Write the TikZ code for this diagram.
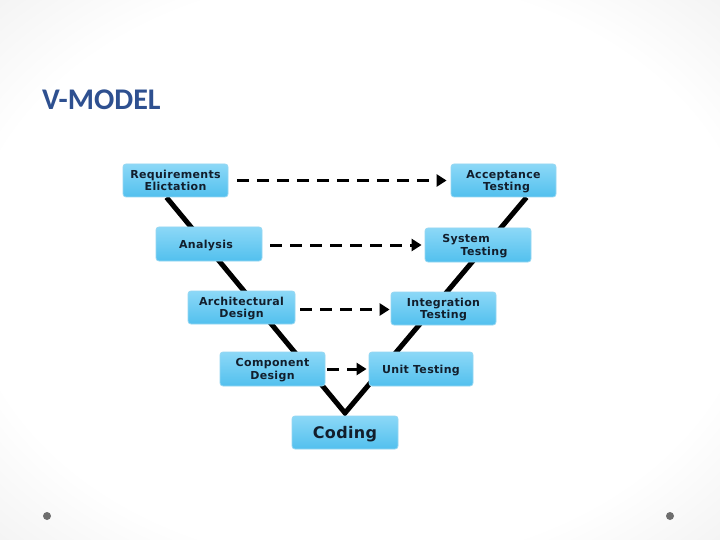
\documentclass[tikz,border=0pt]{standalone}
\usepackage{fontspec}
\usetikzlibrary{arrows.meta,shadings}
\newfontfamily\boxfont[LetterSpace=3]{DejaVu Sans Bold}
\newfontfamily\codefont[LetterSpace=2]{DejaVu Sans Bold}
\newfontfamily\titlefont{Carlito}
\definecolor{boxtop}{RGB}{140,216,247}
\definecolor{boxbot}{RGB}{82,192,238}
\definecolor{boxedge}{RGB}{150,215,242}
\definecolor{boxtext}{RGB}{18,30,44}
\definecolor{titleblue}{RGB}{46,80,144}
\definecolor{dotgray}{RGB}{110,110,110}
\pgfdeclareradialshading{bgshade}{\pgfpoint{0bp}{0bp}}{%
  color(0bp)=(white); color(27bp)=(white); color(50bp)=(black!12); color(72bp)=(black!17)}
\pgfdeclarelayer{bg}
\pgfdeclarelayer{mid}
\pgfsetlayers{bg,mid,main}
\tikzset{
  stagebox/.style={rounded corners=3pt, draw=boxedge, line width=0.8pt,
    top color=boxtop, bottom color=boxbot, minimum width=105pt,
    minimum height=33pt, inner sep=0pt, align=center, text=boxtext,
    text depth=0pt, font=\boxfont\fontsize{11}{12.5}\selectfont},
  dasharrow/.style={line width=3pt, dash pattern=on 12pt off 8pt,
    -{Triangle[length=10pt,width=12pt]}},
  vline/.style={line width=5pt, line join=miter}
}
\begin{document}
\begin{tikzpicture}[x=1pt,y=-1pt]
\begin{pgfonlayer}{bg}
\shade[shading=bgshade] (0,0) rectangle (720,540);
\end{pgfonlayer}
\useasboundingbox (0,0) rectangle (720,540);

\node[anchor=base west, text=titleblue, font=\titlefont\bfseries\fontsize{30}{32}\selectfont, inner sep=0pt] (title) at (42,110) {V-MODEL};

\node[stagebox] (req) at (175.5,180.5) {Requirements\\Elictation};
\node[stagebox] (acc) at (503.5,180.5) {Acceptance\\\hspace*{6pt}Testing};
\node[stagebox, minimum width=106pt, minimum height=34pt] (ana) at (209,244) {\hspace*{-6pt}Analysis};
\node[stagebox, minimum width=106pt, minimum height=34pt] (sys) at (478,245) {System\hspace*{24pt}\\\hspace*{12pt}Testing};
\node[stagebox, minimum width=107pt] (arc) at (241.5,307.5) {Architectural\\Design};
\node[stagebox] (int) at (443.5,308.5) {Integration\\Testing};
\node[stagebox, minimum height=34pt] (com) at (272.5,369) {Component\\Design};
\node[stagebox, minimum width=104pt, minimum height=34pt] (uni) at (421,369) {Unit Testing};
\node[stagebox, minimum width=106pt, font=\codefont\fontsize{16}{18}\selectfont] (cod) at (345,432.5) {Coding};

\coordinate (apex) at (345,413);
\begin{pgfonlayer}{mid}
\draw[vline] ([xshift=-9pt]req.south) -- (apex) -- ([xshift=23pt]acc.south);
\end{pgfonlayer}

\draw[dasharrow, shorten <=9pt, shorten >=4pt] (req.east) -- (req.east -| acc.west);
\draw[dasharrow, shorten <=8pt, shorten >=3pt] ([yshift=-1pt]ana.east) -- ([yshift=-1pt]ana.east -| sys.west);
\draw[dasharrow, shorten <=5pt, shorten >=1pt] ([yshift=-2pt]arc.east) -- ([yshift=-2pt]arc.east -| int.west);
\draw[dasharrow, shorten <=2pt, shorten >=2pt] (com.east) -- (com.east -| uni.west);

\fill[dotgray] (47,516) coordinate (dl) circle (4);
\fill[dotgray] (670,516) coordinate (dr) circle (4);
\end{tikzpicture}
\end{document}
